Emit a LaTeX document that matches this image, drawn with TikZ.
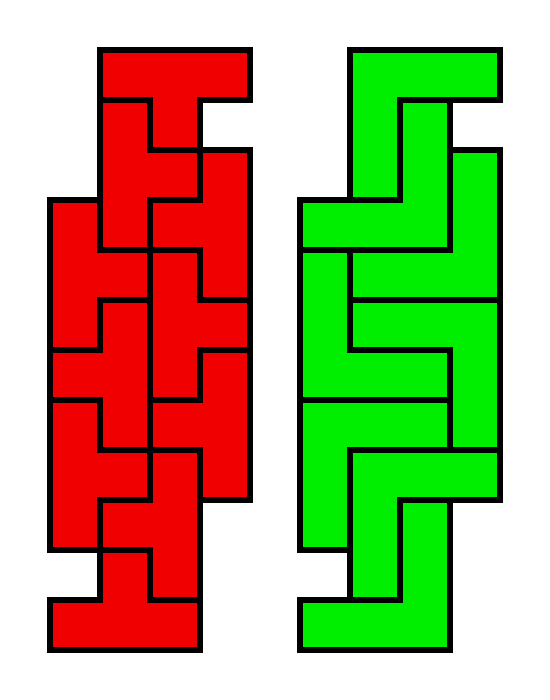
\documentclass[tikz,border=0pt]{standalone}
\definecolor{tred}{RGB}{240,0,0}
\definecolor{tgreen}{RGB}{0,238,0}
\begin{document}
\begin{tikzpicture}[x=1cm,y=-1cm,
  redtile/.style={fill=tred,draw=black,line width=0.12cm,line join=miter},
  greentile/.style={fill=tgreen,draw=black,line width=0.12cm,line join=miter}]
\useasboundingbox (0,0) rectangle (11,14);
% red T-tetrominoes
\draw[redtile] (2,1)--(5,1)--(5,2)--(4,2)--(4,3)--(3,3)--(3,2)--(2,2)--cycle;
\draw[redtile] (2,2)--(3,2)--(3,3)--(4,3)--(4,4)--(3,4)--(3,5)--(2,5)--cycle;
\draw[redtile] (4,3)--(5,3)--(5,6)--(4,6)--(4,5)--(3,5)--(3,4)--(4,4)--cycle;
\draw[redtile] (1,4)--(2,4)--(2,5)--(3,5)--(3,6)--(2,6)--(2,7)--(1,7)--cycle;
\draw[redtile] (2,6)--(3,6)--(3,9)--(2,9)--(2,8)--(1,8)--(1,7)--(2,7)--cycle;
\draw[redtile] (3,5)--(4,5)--(4,6)--(5,6)--(5,7)--(4,7)--(4,8)--(3,8)--cycle;
\draw[redtile] (4,7)--(5,7)--(5,10)--(4,10)--(4,9)--(3,9)--(3,8)--(4,8)--cycle;
\draw[redtile] (1,8)--(2,8)--(2,9)--(3,9)--(3,10)--(2,10)--(2,11)--(1,11)--cycle;
\draw[redtile] (3,9)--(4,9)--(4,12)--(3,12)--(3,11)--(2,11)--(2,10)--(3,10)--cycle;
\draw[redtile] (2,11)--(3,11)--(3,12)--(4,12)--(4,13)--(1,13)--(1,12)--(2,12)--cycle;
% green V-pentominoes
\draw[greentile] (7,1)--(10,1)--(10,2)--(8,2)--(8,4)--(7,4)--cycle;
\draw[greentile] (8,2)--(9,2)--(9,5)--(6,5)--(6,4)--(8,4)--cycle;
\draw[greentile] (9,3)--(10,3)--(10,6)--(7,6)--(7,5)--(9,5)--cycle;
\draw[greentile] (6,5)--(7,5)--(7,7)--(9,7)--(9,8)--(6,8)--cycle;
\draw[greentile] (7,6)--(10,6)--(10,9)--(9,9)--(9,7)--(7,7)--cycle;
\draw[greentile] (6,8)--(9,8)--(9,9)--(7,9)--(7,11)--(6,11)--cycle;
\draw[greentile] (7,9)--(10,9)--(10,10)--(8,10)--(8,12)--(7,12)--cycle;
\draw[greentile] (8,10)--(9,10)--(9,13)--(6,13)--(6,12)--(8,12)--cycle;
\end{tikzpicture}
\end{document}
